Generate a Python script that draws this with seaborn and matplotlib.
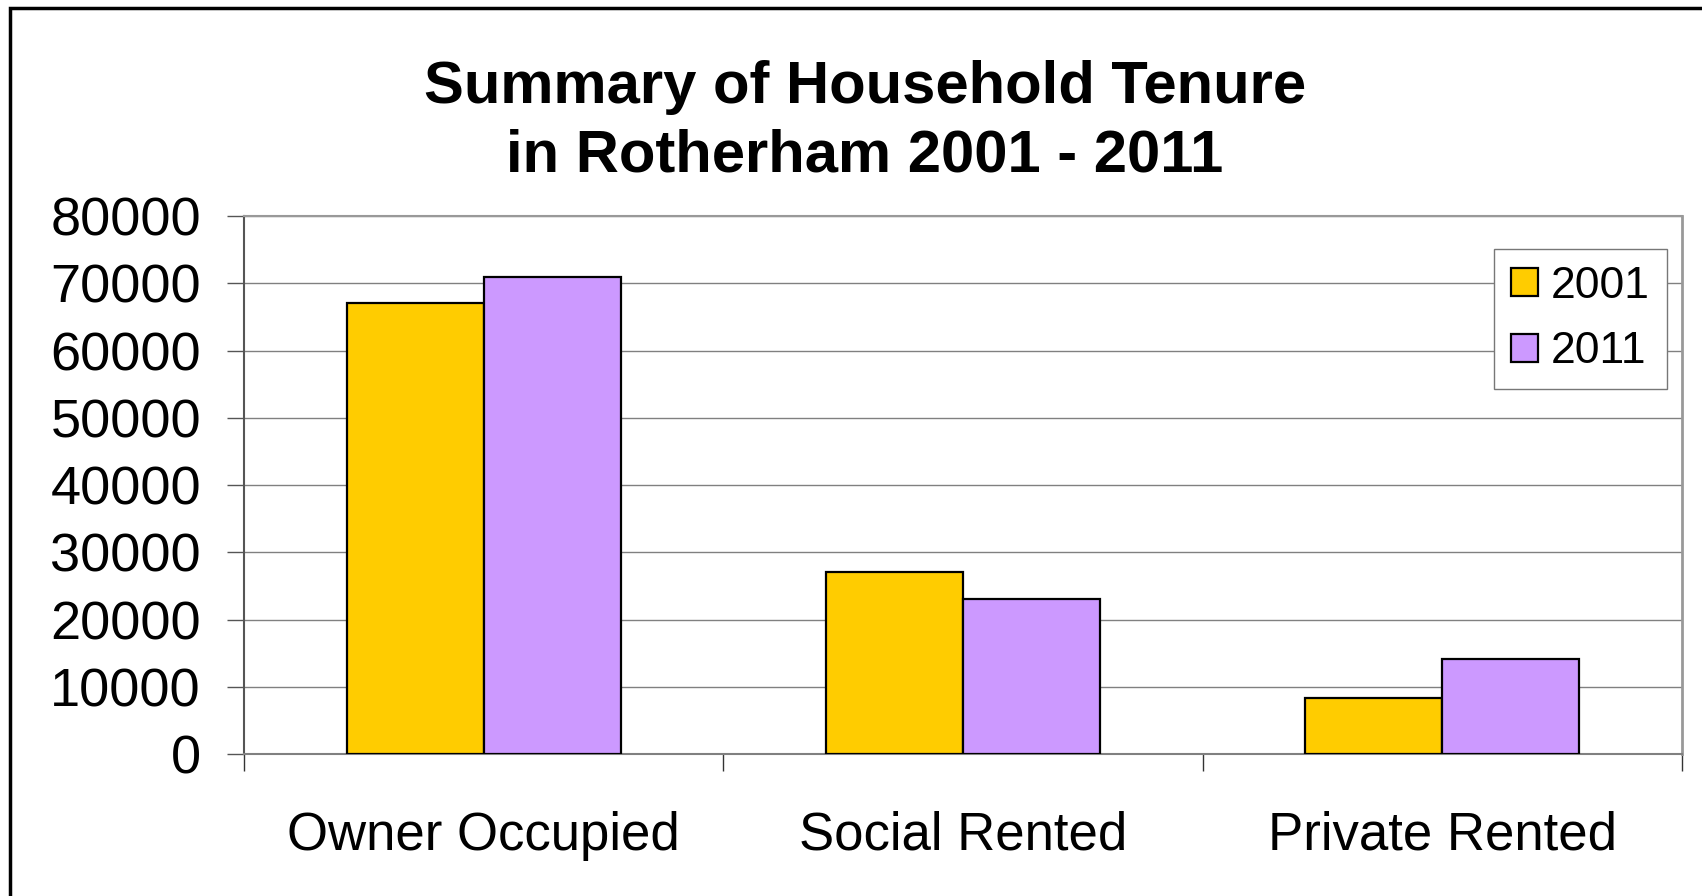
import pandas as pd
import numpy as np
import matplotlib
matplotlib.use('Agg')
import matplotlib.pyplot as plt
import seaborn as sns
from matplotlib.patches import Rectangle
from matplotlib.ticker import FixedLocator

# Data
tenure = ['Owner Occupied', 'Social Rented', 'Private Rented']
years = ['2001', '2011']
households_2001 = [67000, 27000, 8400]
households_2011 = [71000, 23100, 14100]
y_ticks = [0, 10000, 20000, 30000, 40000, 50000, 60000, 70000, 80000]
bar_colors = ['#FFCC00', '#CC99FF']

df = pd.DataFrame({
    'tenure': tenure * 2,
    'year': [years[0]] * 3 + [years[1]] * 3,
    'households': households_2001 + households_2011,
})

sns.set_style('white')
plt.rcParams['font.family'] = ['Liberation Sans', 'DejaVu Sans']
plt.rcParams['text.color'] = 'black'
plt.rcParams['xtick.color'] = 'black'
plt.rcParams['ytick.color'] = 'black'

fig = plt.figure(figsize=(17.02, 8.96), dpi=100)
ax = fig.add_axes([244 / 1702, 1 - 754 / 896, (1682 - 244) / 1702, (754 - 216) / 896])

sns.barplot(data=df, x='tenure', y='households', hue='year', palette=bar_colors,
            width=0.572, gap=0, saturation=1, edgecolor='black', linewidth=1.6,
            ax=ax, zorder=3)

# Axes styling
ax.set_ylim(0, 80000)
ax.set_xlim(-0.5, 2.5)
ax.set_yticks(y_ticks)
ax.set_yticklabels([str(v) for v in y_ticks])
ax.yaxis.grid(True, color='#808080', linewidth=1.0, zorder=0)
ax.set_axisbelow(True)
ax.set_xlabel('')
ax.set_ylabel('')

for side, col, lw in [('left', '#555555', 1.5), ('right', '#999999', 2.0),
                      ('bottom', '#808080', 1.5), ('top', '#999999', 1.5)]:
    ax.spines[side].set_visible(True)
    ax.spines[side].set_color(col)
    ax.spines[side].set_linewidth(lw)

ax.tick_params(axis='y', which='major', left=True, length=12, width=1, color='#555555',
               labelsize=39, pad=19, labelcolor='black')
ax.tick_params(axis='x', which='major', bottom=True, length=0, labelsize=38, pad=41,
               labelcolor='black')
ax.xaxis.set_minor_locator(FixedLocator([-0.5, 0.5, 1.5, 2.5]))
ax.tick_params(axis='x', which='minor', bottom=True, length=12, width=1, color='#333333')

# Legend
handles, labels = ax.get_legend_handles_labels()
if ax.get_legend() is not None:
    ax.get_legend().remove()
leg = fig.legend(handles, labels, loc='upper right', bbox_to_anchor=(1667 / 1702, 1 - 249 / 896),
                 bbox_transform=fig.transFigure, fontsize=32, frameon=True, fancybox=False,
                 framealpha=1, edgecolor='#777777', handlelength=0.6, handleheight=0.6,
                 handletextpad=0.3, labelspacing=0.55, borderpad=0.38, borderaxespad=0)
leg.get_frame().set_linewidth(1.0)

# Title
fig.text(865 / 1702, 1 - 172 / 896, 'Summary of Household Tenure\nin Rotherham 2001 - 2011',
         ha='center', va='baseline', fontsize=43, fontweight='bold', linespacing=1.33,
         color='black')

# Chart frame (left and top edges visible in the reference)
fig.patches.append(Rectangle((10 / 1702, -0.1), 1.2, 1 - 8 / 896 + 0.1,
                             transform=fig.transFigure, fill=False, edgecolor='black',
                             linewidth=2.5, zorder=10))

fig.savefig('out.png', dpi=100)
